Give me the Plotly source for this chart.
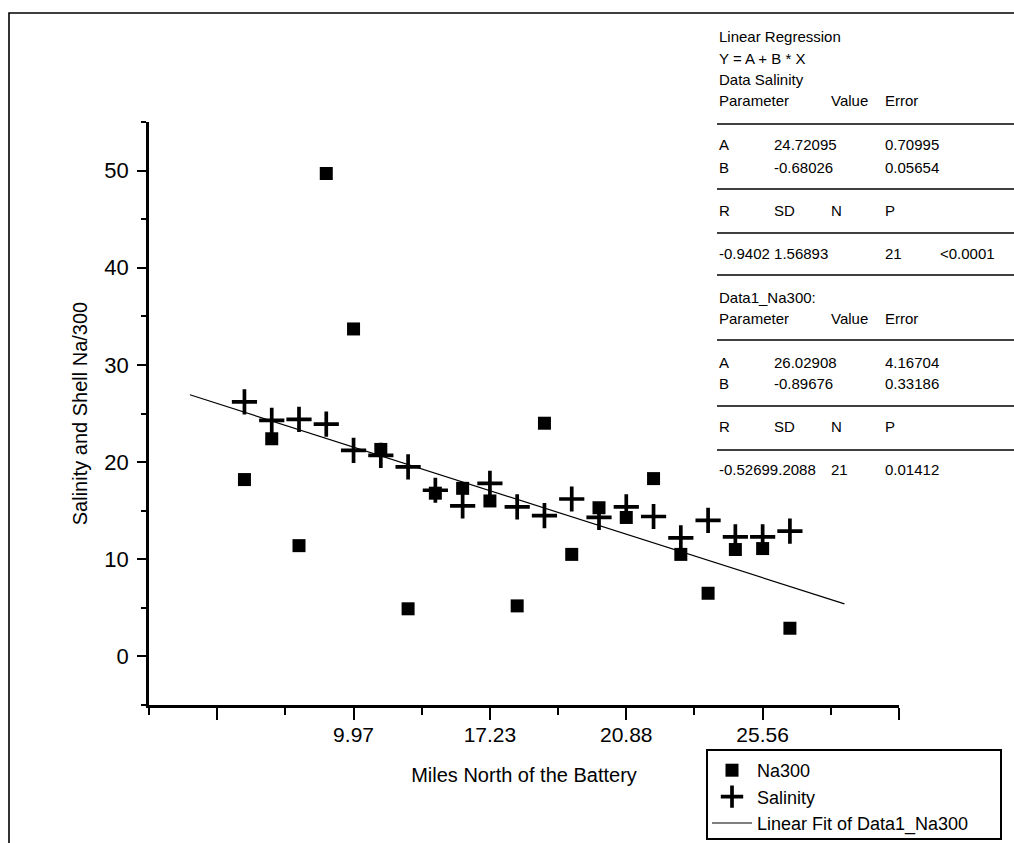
import plotly.graph_objects as go

# ---------------- data ----------------
station_index = list(range(1, 22))
na300 = [18.2, 22.4, 11.4, 49.7, 33.7, 21.3, 4.9, 16.8, 17.3, 16.0, 5.2,
         24.0, 10.5, 15.3, 14.3, 18.3, 10.5, 6.5, 11.0, 11.1, 2.9]
salinity = [26.2, 24.3, 24.4, 23.9, 21.2, 20.7, 19.5, 17.1, 15.5, 17.8, 15.4,
            14.5, 16.2, 14.3, 15.4, 14.4, 12.2, 14.0, 12.3, 12.3, 12.9]
fit_A = 26.02908
fit_B = -0.89676
fit_x_span = [-1, 23]

x_tick_vals = [0, 5, 10, 15, 20, 25]
x_tick_text = ["", "9.97", "17.23", "20.88", "25.56", ""]
y_tick_vals = [0, 10, 20, 30, 40, 50]

table_rows = [
    ["Linear Regression"],
    ["Y = A + B * X"],
    ["Data Salinity"],
    ["Parameter", "", "Value", "Error"],
    None,
    ["A", "24.72095", "", "0.70995"],
    ["B", "-0.68026", "", "0.05654"],
    None,
    ["R", "SD", "N", "P"],
    None,
    ["-0.9402 1.56893", "", "", "21", "<0.0001"],
    None,
    ["Data1_Na300:"],
    ["Parameter", "", "Value", "Error"],
    None,
    ["A", "26.02908", "", "4.16704"],
    ["B", "-0.89676", "", "0.33186"],
    None,
    ["R", "SD", "N", "P"],
    None,
    ["-0.52699.2088", "", "21", "0.01412"],
]

# ---------------- layout geometry ----------------
W, H = 1014, 843
PLOT_L, PLOT_T, PW, PH = 149, 122, 750, 583
ML = PLOT_L
MT = PLOT_T
MR = W - ML - PW
MB = H - MT - PH
FONT = "Liberation Sans, Arial, sans-serif"


def px(x):
    return (x - PLOT_L) / PW


def py(y):
    return (PLOT_T + PH - y) / PH


fig = go.Figure()
fig.add_trace(go.Scatter(
    x=station_index, y=na300, mode="markers", name="Na300",
    marker=dict(symbol="square", size=13, color="black"),
))
fig.add_trace(go.Scatter(
    x=station_index, y=salinity, mode="markers", name="Salinity",
    marker=dict(symbol="cross-thin", size=18, color="black",
                line=dict(color="black", width=3.7)),
))
fig.add_trace(go.Scatter(
    x=fit_x_span, y=[fit_A + fit_B * v for v in fit_x_span], mode="lines",
    name="Linear Fit of Data1_Na300", line=dict(color="black", width=1.2),
))

# ---------- regression table (text + rules) ----------
col_x = [717, 772, 829, 883, 938]
row_y = [36.6, 58, 79.6, 101, 124, 144, 167, 189, 210, 233, 253, 275, 297,
         318, 340, 362, 384, 406, 426, 450, 469]
annotations = []
shapes = []
for row, yy in zip(table_rows, row_y):
    if row is None:
        shapes.append(dict(type="line", xref="paper", yref="paper",
                           x0=px(717), x1=px(1030), y0=py(yy), y1=py(yy),
                           line=dict(color="black", width=1.6)))
        continue
    for txt, xx in zip(row, col_x):
        if not txt:
            continue
        annotations.append(dict(
            text=txt, xref="paper", yref="paper", x=px(xx), y=py(yy),
            xanchor="left", yanchor="middle", showarrow=False,
            font=dict(family=FONT, size=15, color="black")))

# outer frame
shapes.append(dict(type="rect", xref="paper", yref="paper",
                   x0=px(9), x1=px(1040), y0=py(870), y1=py(13),
                   line=dict(color="black", width=1.6), layer="below"))
# legend frame
shapes.append(dict(type="rect", xref="paper", yref="paper",
                   x0=px(707), x1=px(1001), y0=py(839), y1=py(750),
                   line=dict(color="black", width=2), layer="above"))

fig.update_layout(
    width=W, height=H,
    margin=dict(l=ML, r=MR, t=MT, b=MB, autoexpand=False),
    paper_bgcolor="white", plot_bgcolor="white",
    font=dict(family=FONT, color="black"),
    showlegend=True,
    legend=dict(x=px(707), y=py(752), xanchor="left", yanchor="top",
                borderwidth=0, bgcolor="rgba(0,0,0,0)",
                font=dict(family=FONT, size=18, color="black"),
                itemwidth=40, tracegroupgap=0),
    annotations=annotations,
    shapes=shapes,
    xaxis=dict(
        range=[-2.5, 25], showgrid=False, zeroline=False,
        showline=True, linecolor="black", linewidth=2.5,
        tickmode="array", tickvals=x_tick_vals, ticktext=x_tick_text,
        ticks="outside", ticklen=12, tickwidth=2, tickcolor="black",
        tickfont=dict(family=FONT, size=21, color="black"),
        ticklabelstandoff=-3,
        minor=dict(tickmode="linear", tick0=-2.5, dtick=5, ticks="outside",
                   ticklen=7, tickwidth=2, tickcolor="black"),
        title=dict(text="Miles North of the Battery",
                   font=dict(family=FONT, size=20, color="black"), standoff=24),
    ),
    yaxis=dict(
        range=[-5, 55], showgrid=False, zeroline=False,
        showline=True, linecolor="black", linewidth=2.5,
        tickmode="array", tickvals=y_tick_vals,
        ticks="outside", ticklen=9, tickwidth=2, tickcolor="black",
        tickfont=dict(family=FONT, size=22, color="black"),
        ticklabelstandoff=4,
        minor=dict(tickmode="linear", tick0=-5, dtick=10, ticks="outside",
                   ticklen=5, tickwidth=2, tickcolor="black"),
        title=dict(text="Salinity and Shell Na/300",
                   font=dict(family=FONT, size=20, color="black"), standoff=12),
    ),
)

fig.write_html(
    "out.html",
    config={"displayModeBar": False},
    post_script="document.body.style.margin='0';"
                "document.body.style.overflow='hidden';",
)
